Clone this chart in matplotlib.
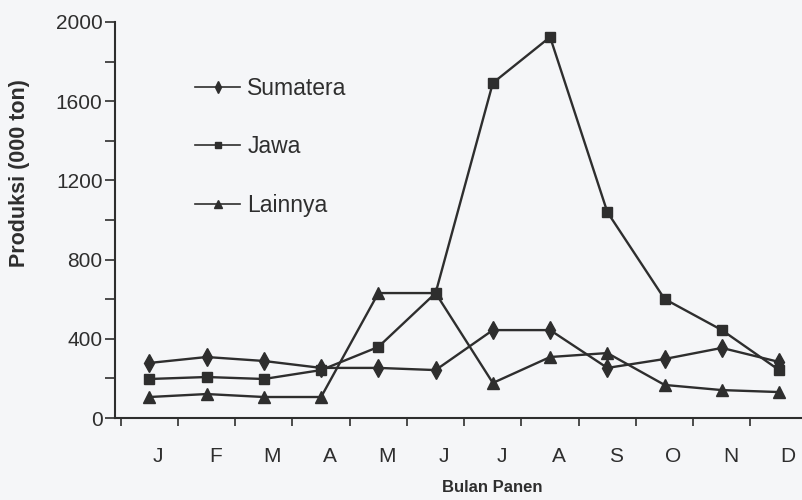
import matplotlib.pyplot as plt
import numpy as np
from matplotlib.ticker import FixedLocator, MultipleLocator

# month initials on the x axis
months = ['J', 'F', 'M', 'A', 'M', 'J', 'J', 'A', 'S', 'O', 'N', 'D']

# production (000 ton)
sumatera = [278, 308, 288, 253, 253, 242, 444, 444, 253, 298, 354, 283]
jawa = [197, 207, 197, 242, 359, 631, 1692, 1924, 1040, 601, 444, 242]
lainnya = [106, 121, 106, 106, 631, 631, 177, 308, 328, 167, 141, 131]

ink = '#2e2e2e'
plt.rcParams['font.family'] = ['Liberation Sans', 'DejaVu Sans']

fig = plt.figure(figsize=(8.02, 5.0), dpi=100)
fig.patch.set_facecolor('#f5f6f8')
ax = fig.add_axes([115 / 802, 1 - 418 / 500, 1 - 115 / 802, (418 - 22) / 500])
ax.set_facecolor('none')

x = np.arange(len(months))
ax.plot(x, sumatera, color=ink, lw=1.7, marker='d', ms=9, label='Sumatera')
ax.plot(x, jawa, color=ink, lw=1.7, marker='s', ms=7, label='Jawa')
ax.plot(x, lainnya, color=ink, lw=1.7, marker='^', ms=9, label='Lainnya')

ax.set_xlim(-0.6, 11.4)
ax.set_ylim(0, 2000)

# y ticks: labelled every 400, plain ticks in between
ax.yaxis.set_major_locator(MultipleLocator(400))
ax.yaxis.set_minor_locator(MultipleLocator(200))
ax.tick_params(axis='y', which='both', direction='out', length=7, width=1.2,
               color=ink, labelsize=15, labelcolor=ink, pad=2)

# x ticks sit between months, month letters under the points
ax.xaxis.set_major_locator(FixedLocator(np.arange(-0.5, 12, 1)))
ax.xaxis.set_minor_locator(FixedLocator(x + 0.15))
ax.set_xticklabels([], minor=False)
ax.set_xticklabels(months, minor=True)
ax.tick_params(axis='x', which='major', direction='out', length=6, width=1.2, color=ink)
ax.tick_params(axis='x', which='minor', length=0, labelsize=15, labelcolor=ink, pad=21)

for s in ['top', 'right']:
    ax.spines[s].set_visible(False)
for s in ['left', 'bottom']:
    ax.spines[s].set_color(ink)
    ax.spines[s].set_linewidth(1.5)

leg = ax.legend(loc='upper left', bbox_to_anchor=(174 / 802, 1 - 56 / 500),
                bbox_transform=fig.transFigure, frameon=False, fontsize=16.5,
                handlelength=2.0, handletextpad=0.3, labelspacing=1.55,
                markerscale=0.65)
for t in leg.get_texts():
    t.set_color(ink)
for h in leg.legend_handles:
    h.set_linewidth(1.2)

fig.text(20 / 802, 1 - 173 / 500, 'Produksi (000 ton)', rotation=90, ha='center',
         va='center', fontsize=15.5, fontweight='bold', color=ink)
fig.text(492 / 802, 1 - 488 / 500, 'Bulan Panen', ha='center', va='center',
         fontsize=12, fontweight='bold', color=ink)

plt.savefig('out.png', dpi=100, facecolor=fig.get_facecolor())
